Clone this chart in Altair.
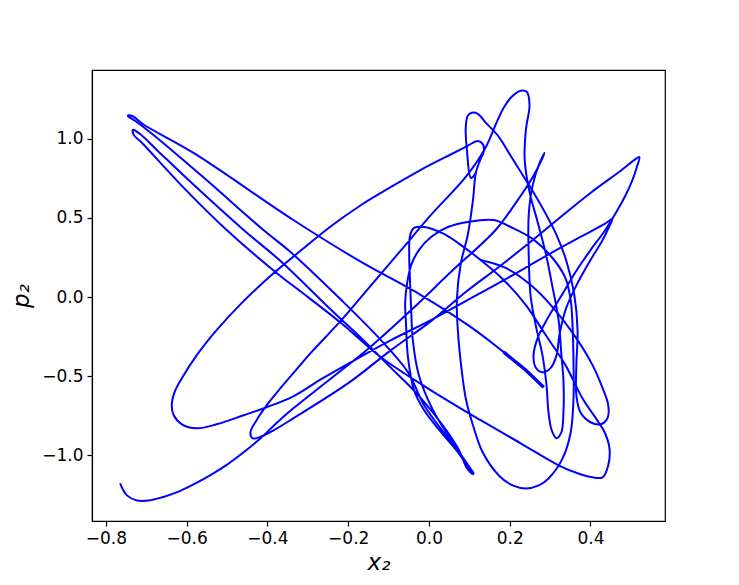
import altair as alt
import pandas as pd

# main trajectory (in data units)
x2_main = [-0.765,-0.748,-0.723,-0.694,-0.662,-0.625,-0.588,-0.538,-0.499,-0.459,-0.417,-0.378,-0.336,-0.242,-0.143,-0.044,0.054,0.165,0.215,0.257,0.279,0.286,
           0.274,0.257,0.247,0.247,0.252,0.267,0.281,0.291,0.296,0.304,0.316,0.328,0.333,0.333,0.328,
           0.321,0.306,0.289,0.269,0.249,0.237,0.240,0.249,0.242,0.227,0.205,0.185,0.165,0.141,0.091,
           0.005,-0.069,-0.143,-0.217,-0.291,-0.336,-0.368,-0.402,-0.427,-0.442,-0.437,-0.420,-0.385,-0.336,
           -0.200,-0.094,0.005,0.091,0.173,0.257,0.314,0.400,0.474,0.509,0.521,
           0.514,0.504,0.486,0.464,0.435,0.400,0.363,0.326,0.294,0.269,0.259,0.264,0.281,0.301,0.316,0.323,0.338,0.363,0.400,0.430,0.447,0.454,
           0.435,0.375,0.289,0.190,0.091,0.005,-0.094,-0.193,-0.267,-0.336,-0.402,-0.459,-0.526,-0.575,-0.612,-0.632,-0.637,-0.630,-0.612,-0.575,-0.526,-0.464,-0.390,-0.316,-0.242,-0.168,-0.094,-0.020,0.042,0.091,0.121,0.133,0.136,0.126,0.116,
           0.109,0.096,0.079,0.069,0.072,0.081,0.091,0.109,0.133,0.173,0.207,0.240,0.272,0.296,0.331,0.351,0.358,0.358,0.356,0.351,0.338,0.306,0.257,0.202,0.160,0.096,0.047,0.005,-0.025,-0.044,-0.054,-0.059,-0.057,-0.052,-0.037,-0.012,0.030,0.072,0.099,0.109,
           0.094,0.072,-0.020,-0.101,-0.168,-0.242,-0.365,-0.459,-0.588,-0.674,-0.716,-0.733,-0.731,
           -0.711,-0.612,-0.501,-0.365,-0.316,-0.217,-0.119,0.005,0.128,0.227,0.321,0.375,0.405,0.430,0.444,0.447,0.435,0.420,0.380,0.338,
           0.289,0.240,0.185,0.128,0.086,0.037,-0.012,-0.037,-0.047,-0.049,-0.047,-0.044,-0.040,
           -0.025,0.010,0.059,0.099,0.111,
           0.091,0.047,-0.012,-0.052,-0.119,-0.217,-0.343,-0.410,-0.563,-0.686,-0.728,-0.746,-0.736,
           -0.706,-0.583,-0.336,-0.168,-0.020,0.104,0.185,0.240,0.284]
p2_main = [-1.177,-1.253,-1.285,-1.285,-1.266,-1.234,-1.190,-1.120,-1.057,-0.981,-0.892,-0.797,-0.703,-0.513,-0.310,-0.082,0.158,0.424,0.595,0.759,0.867,0.911,
           0.848,0.709,0.519,0.266,0.0,-0.209,-0.367,-0.557,-0.728,-0.842,-0.892,-0.854,-0.728,-0.525,-0.367,
           -0.146,0.063,0.278,0.475,0.665,0.867,1.057,1.215,1.297,1.304,1.266,1.196,1.089,0.949,0.759,
           0.519,0.297,0.076,-0.146,-0.348,-0.481,-0.576,-0.684,-0.778,-0.854,-0.892,-0.886,-0.842,-0.766,
           -0.544,-0.335,-0.152,0.032,0.190,0.361,0.481,0.658,0.797,0.867,0.886,
           0.816,0.741,0.639,0.538,0.418,0.297,0.158,0.0,-0.133,-0.259,-0.367,-0.443,-0.475,-0.449,-0.367,-0.240,-0.082,0.063,0.234,0.361,0.449,0.494,
           0.462,0.380,0.259,0.114,-0.025,-0.146,-0.272,-0.411,-0.519,-0.627,-0.696,-0.747,-0.804,-0.829,-0.804,-0.747,-0.684,-0.601,-0.513,-0.367,-0.209,-0.038,0.139,0.297,0.449,0.582,0.696,0.804,0.886,0.949,0.987,0.968,0.924,0.861,0.785,
           0.614,0.392,0.215,-0.019,-0.228,-0.462,-0.639,-0.810,-0.981,-1.127,-1.190,-1.209,-1.190,-1.146,-1.019,-0.854,-0.639,-0.430,-0.209,-0.019,0.120,0.247,0.367,0.443,0.487,0.475,0.443,0.380,0.297,0.203,0.089,-0.038,-0.165,-0.380,-0.589,-0.715,-0.854,-0.981,-1.082,-1.120,
           -1.082,-0.956,-0.639,-0.430,-0.259,-0.082,0.222,0.424,0.722,0.930,1.032,1.057,1.025,
           0.975,0.703,0.424,0.127,0.032,-0.165,-0.380,-0.589,-0.778,-0.924,-1.063,-1.120,-1.139,-1.139,-1.063,-0.956,-0.854,-0.791,-0.639,-0.430,
           -0.240,-0.051,0.108,0.234,0.316,0.399,0.443,0.437,0.386,0.266,0.108,-0.082,-0.272,
           -0.494,-0.715,-0.918,-1.070,-1.114,
           -1.044,-0.892,-0.684,-0.475,-0.272,-0.019,0.285,0.424,0.766,1.032,1.114,1.146,1.146,
           1.089,0.911,0.487,0.222,0.013,-0.190,-0.348,-0.462,-0.570]

# second loop (upper tip near x2=0.1 and the loop at lower right)
x2_loop = [0.116,0.104,0.094,0.091,0.096,0.106,0.121,0.141,0.173,0.198,0.232,0.277,0.316,0.341,0.360,0.368,0.365,0.365,0.375,0.400,0.425,0.442,0.444,0.430,0.405,0.363,0.306,0.252,0.190,0.128]
p2_loop = [0.785,0.753,0.930,1.070,1.146,1.165,1.158,1.101,1.013,0.911,0.772,0.582,0.392,0.222,0.013,-0.209,-0.430,-0.620,-0.728,-0.791,-0.804,-0.766,-0.684,-0.576,-0.430,-0.253,-0.063,0.076,0.184,0.234]

# closing stretch, drawn heavier
x2_end = [0.185, 0.240, 0.284]
p2_end = [-0.348, -0.462, -0.570]

rows = []
for name, xs, ps in [("main", x2_main, p2_main), ("loop", x2_loop, p2_loop)]:
    for i, (a, b) in enumerate(zip(xs, ps)):
        rows.append({"x2": a, "p2": b, "seg": name, "i": i})
df = pd.DataFrame(rows)
df_end = pd.DataFrame({"x2": x2_end, "p2": p2_end, "i": list(range(len(x2_end)))})

x_ticks = [-0.8, -0.6, -0.4, -0.2, 0.0, 0.2, 0.4]
y_ticks = [-1.0, -0.5, 0.0, 0.5, 1.0]

minus = "replace(datum.label, '-', '\u2212')"
xenc = alt.X("x2:Q", scale=alt.Scale(domain=[-0.8345, 0.5845], nice=False, zero=False),
             axis=alt.Axis(values=x_ticks, format=".1f", labelExpr=minus, title="x\u2082",
                           titleFontStyle="italic"))
yenc = alt.Y("p2:Q", scale=alt.Scale(domain=[-1.415, 1.435], nice=False, zero=False),
             axis=alt.Axis(values=y_ticks, format=".1f", labelExpr=minus, title="p\u2082",
                           titleFontStyle="italic"))

lines = alt.Chart(df).mark_line(color="#0000ff", strokeWidth=2.0, interpolate="catmull-rom", clip=True).encode(
    x=xenc, y=yenc, detail="seg:N", order="i:Q")
endseg = alt.Chart(df_end).mark_line(color="#0000ff", strokeWidth=3.4, clip=True).encode(
    x="x2:Q", y="p2:Q", order="i:Q")

chart = (lines + endseg).properties(
    width=573, height=451,
    autosize=alt.AutoSizeParams(type="none"),
    padding={"left": 84, "top": 62, "right": 66, "bottom": 56},
).configure_view(stroke="black", strokeWidth=1.2).configure_axis(
    grid=False, domainColor="black", tickColor="black", tickSize=5, labelColor="black",
    labelFont="DejaVu Sans", labelFontSize=17, titleFont="DejaVu Sans", titleFontSize=23,
    titleFontWeight="normal", titleColor="black", labelPadding=4, domainWidth=1.2, tickWidth=1.2
).configure_axisX(titlePadding=5).configure_axisY(titlePadding=8, titleAngle=-90)

chart.save("out.html", embed_options={"renderer": "svg", "actions": False})
